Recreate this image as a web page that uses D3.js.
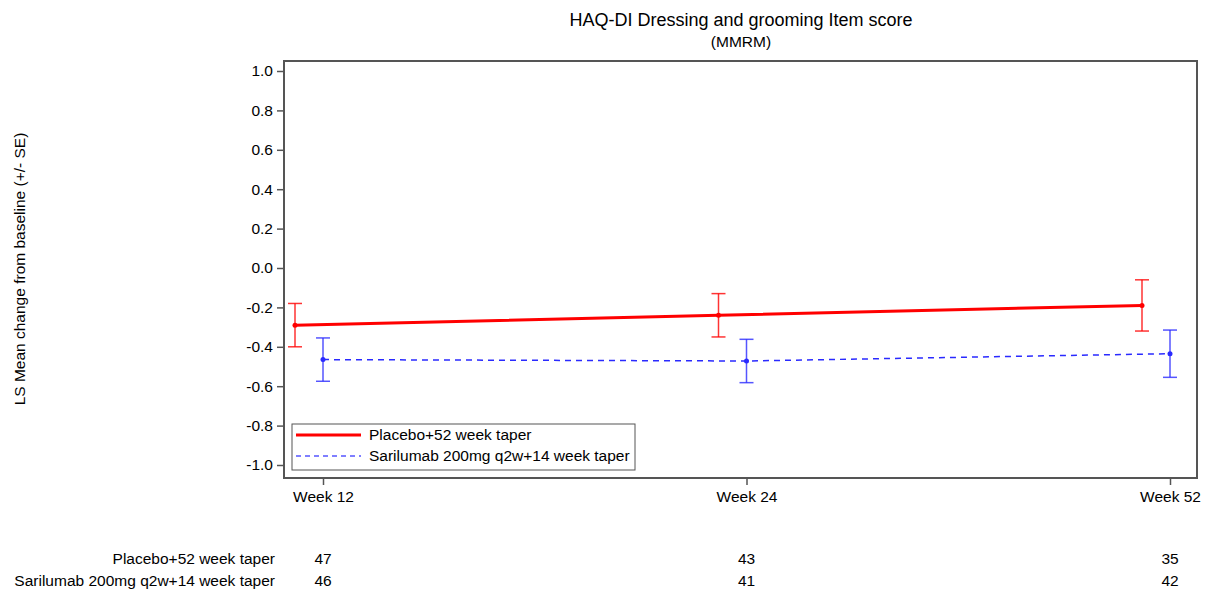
<!DOCTYPE html>
<html>
<head>
<meta charset="utf-8">
<script src="https://cdn.jsdelivr.net/npm/d3@7"></script>
<style>
  body { margin: 0; background: #fff; }
  svg text { font-family: "Liberation Sans", Arial, sans-serif; fill: #000; }
</style>
</head>
<body>
<svg id="chart" width="1207" height="592"></svg>
<script>
// Visits and group data
const visits = ["Week 12", "Week 24", "Week 52"];
const groups = ["Placebo+52 week taper", "Sarilumab 200mg q2w+14 week taper"];
const placeboMean = [-0.29, -0.24, -0.19];
const placeboSE = [0.11, 0.11, 0.13];
const sariMean = [-0.465, -0.472, -0.435];
const sariSE = [0.11, 0.11, 0.12];
const placeboN = [47, 43, 35];
const sariN = [46, 41, 42];
const yTicks = [1.0, 0.8, 0.6, 0.4, 0.2, 0.0, -0.2, -0.4, -0.6, -0.8, -1.0];

const svg = d3.select("#chart");
const frame = { left: 284, right: 1197, top: 61, bottom: 478 };
const fs = "15.5px";

const x = d3.scalePoint().domain(visits).range([323, 1170]);
const y = d3.scaleLinear().domain([-1, 1]).range([465, 71]);
const offset = { placebo: -28, sari: 0 };

// Title
svg.append("text").attr("x", 741).attr("y", 26).attr("text-anchor", "middle")
  .style("font-size", "18px").text("HAQ-DI Dressing and grooming Item score");
svg.append("text").attr("x", 741).attr("y", 47).attr("text-anchor", "middle")
  .style("font-size", fs).text("(MMRM)");

// Y axis label
svg.append("text").attr("transform", "translate(25,269) rotate(-90)")
  .attr("text-anchor", "middle").style("font-size", fs)
  .text("LS Mean change from baseline (+/- SE)");

// Frame
svg.append("rect").attr("x", frame.left).attr("y", frame.top)
  .attr("width", frame.right - frame.left).attr("height", frame.bottom - frame.top)
  .attr("fill", "none").attr("stroke", "#555").attr("stroke-width", 2);

// Y axis
const yAxis = d3.axisLeft(y).tickValues(yTicks).tickSize(7).tickPadding(4)
  .tickFormat(d => d3.format(".1f")(d).replace("\u2212", "-"));
const yg = svg.append("g").attr("transform", `translate(${frame.left},0)`).call(yAxis);
yg.select(".domain").remove();
yg.selectAll("line").attr("stroke", "#555").attr("stroke-width", 1.5);
yg.selectAll("text").style("font-size", fs).style("font-family", "Liberation Sans, Arial, sans-serif");

// X axis
const xAxis = d3.axisBottom(x).tickSize(7).tickPadding(6);
const xg = svg.append("g").attr("transform", `translate(0,${frame.bottom})`).call(xAxis);
xg.select(".domain").remove();
xg.selectAll("line").attr("stroke", "#555").attr("stroke-width", 1.5);
xg.selectAll("text").style("font-size", fs).style("font-family", "Liberation Sans, Arial, sans-serif");

function drawSeries(means, ses, dx, color, width, dash, barOpacity) {
  const pts = visits.map((v, i) => ({ v, m: means[i], se: ses[i] }));
  const line = d3.line().x(d => x(d.v) + dx).y(d => y(d.m));
  const g = svg.append("g");
  g.selectAll("g.err").data(pts).join("g").attr("class", "err")
    .each(function(d) {
      const e = d3.select(this);
      const cx = x(d.v) + dx;
      e.append("line").attr("x1", cx).attr("x2", cx).attr("y1", y(d.m + d.se)).attr("y2", y(d.m - d.se));
      e.append("line").attr("x1", cx - 7).attr("x2", cx + 7).attr("y1", y(d.m + d.se)).attr("y2", y(d.m + d.se));
      e.append("line").attr("x1", cx - 7).attr("x2", cx + 7).attr("y1", y(d.m - d.se)).attr("y2", y(d.m - d.se));
    })
    .selectAll("line").attr("stroke", color).attr("stroke-width", 1.5).attr("stroke-opacity", barOpacity);
  g.append("path").datum(pts).attr("d", line).attr("fill", "none")
    .attr("stroke", color).attr("stroke-width", width).attr("stroke-dasharray", dash);
  g.selectAll("circle").data(pts).join("circle")
    .attr("cx", d => x(d.v) + dx).attr("cy", d => y(d.m)).attr("r", 2.5).attr("fill", color);
}

drawSeries(placeboMean, placeboSE, offset.placebo, "#ff0000", 3, null, 0.8);
drawSeries(sariMean, sariSE, offset.sari, "#2a2aff", 1.5, "6,5", 0.8);

// Legend
const lg = svg.append("g");
lg.append("rect").attr("x", 292).attr("y", 424).attr("width", 343).attr("height", 46)
  .attr("fill", "#fff").attr("stroke", "#555").attr("stroke-width", 1);
const legendItems = [
  { label: groups[0], color: "#ff0000", w: 3, dash: null, yy: 435 },
  { label: groups[1], color: "#5555ff", w: 1.5, dash: "5,4", yy: 456 }
];
legendItems.forEach(it => {
  lg.append("line").attr("x1", 296).attr("x2", 361).attr("y1", it.yy).attr("y2", it.yy)
    .attr("stroke", it.color).attr("stroke-width", it.w).attr("stroke-dasharray", it.dash);
  lg.append("text").attr("x", 369).attr("y", it.yy + 5).style("font-size", fs).text(it.label);
});

// Number of subjects table
const rows = [
  { label: groups[0], n: placeboN, yy: 564 },
  { label: groups[1], n: sariN, yy: 586 }
];
rows.forEach(r => {
  svg.append("text").attr("x", 275).attr("y", r.yy).attr("text-anchor", "end")
    .style("font-size", fs).text(r.label);
  visits.forEach((v, i) => {
    svg.append("text").attr("x", x(v)).attr("y", r.yy).attr("text-anchor", "middle")
      .style("font-size", fs).text(r.n[i]);
  });
});
</script>
</body>
</html>
